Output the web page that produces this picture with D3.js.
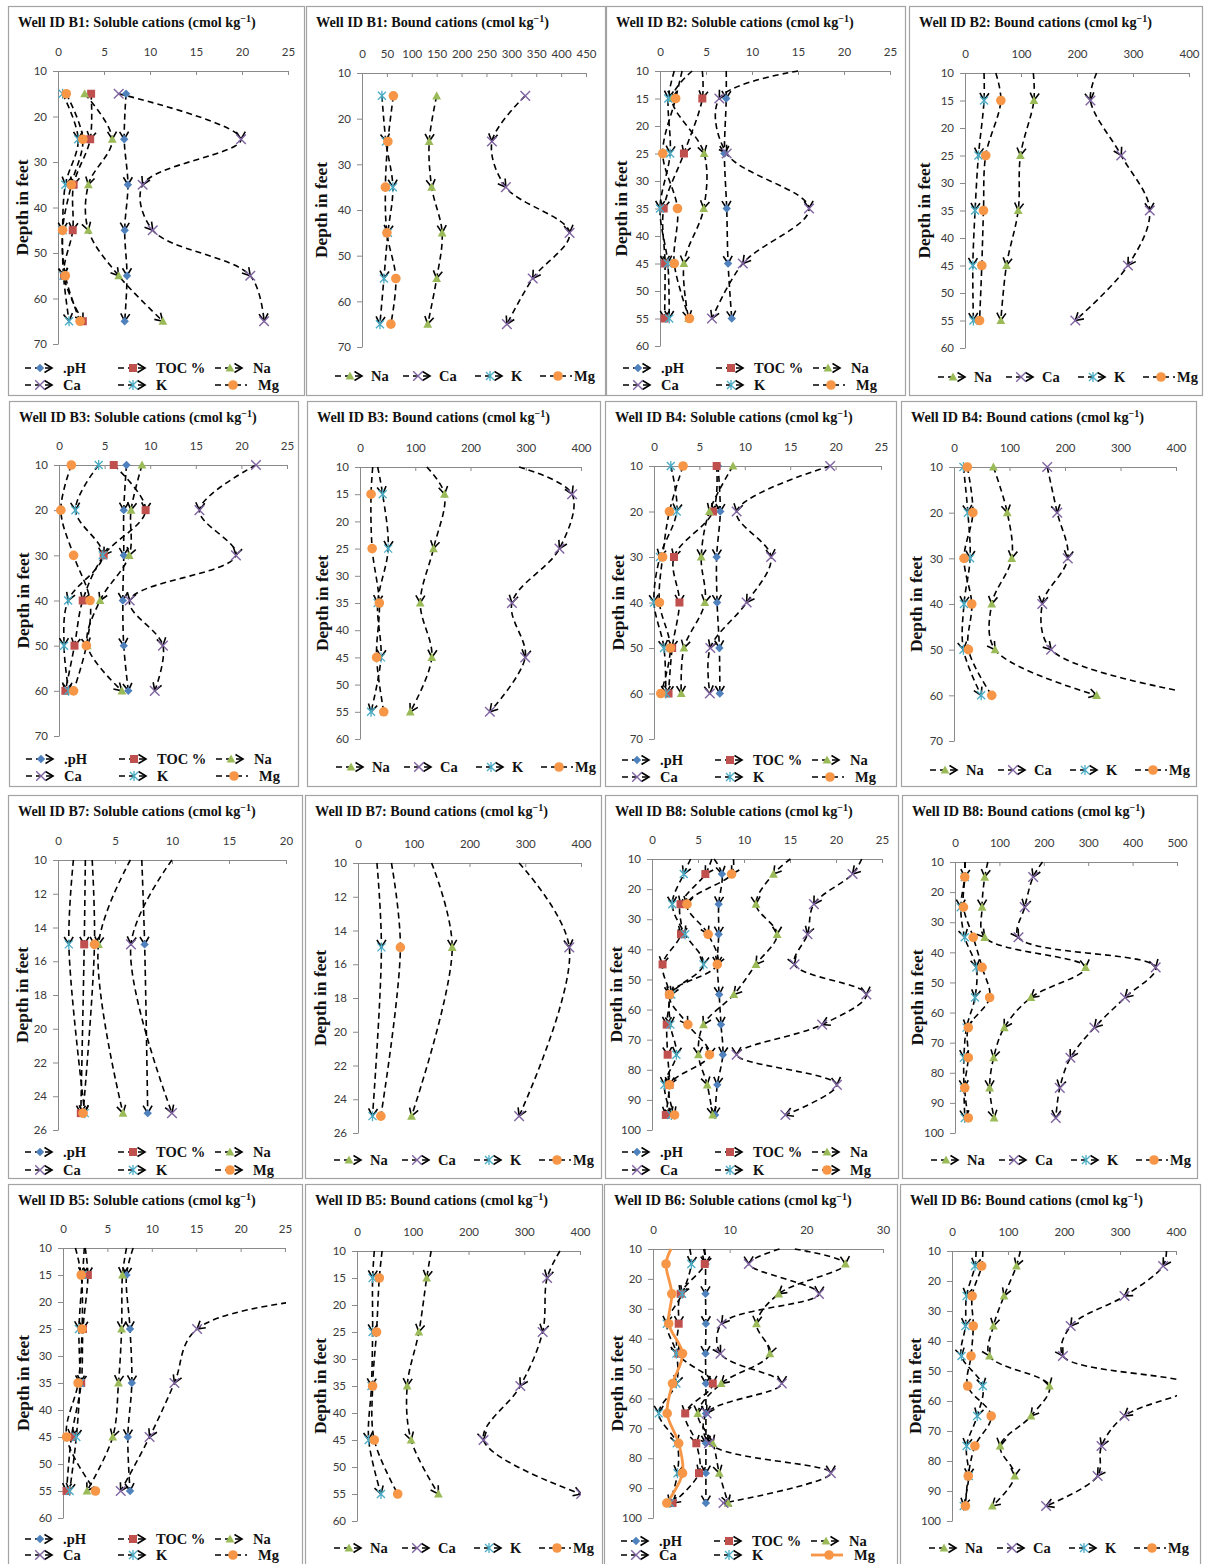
<!DOCTYPE html>
<html>
<head>
<meta charset="utf-8">
<script src="https://cdn.jsdelivr.net/npm/d3@7"></script>
<style>
  body { margin: 0; background: #fff; }
  svg { display: block; }
  .tick text { font-family: Lato, "Open Sans", sans-serif; font-size: 11.5px; fill: #3a3a3a; }
  .tick line, .domain { stroke: #8a8a8a; }
</style>
</head>
<body>
<svg id="chart" width="1206" height="1564"></svg>
<script>
// ---- sampling depths (feet) ----
const depths15to65 = [15, 25, 35, 45, 55, 65];
const depths15to55 = [15, 25, 35, 45, 55];
const depths10to60 = [10, 20, 30, 40, 50, 60];
const depths15to95 = [15, 25, 35, 45, 55, 65, 75, 85, 95];
const depths15and25 = [15, 25];

// ---- axis tick labels ----
const ticks20 = [0, 5, 10, 15, 20];
const ticks25 = [0, 5, 10, 15, 20, 25];
const ticks30 = [0, 10, 20, 30];
const ticks400 = [0, 100, 200, 300, 400];
const ticks450 = [0, 50, 100, 150, 200, 250, 300, 350, 400, 450];
const ticks500 = [0, 100, 200, 300, 400, 500];
const depthTicks70 = [10, 20, 30, 40, 50, 60, 70];
const depthTicks60 = [10, 15, 20, 25, 30, 35, 40, 45, 50, 55, 60];
const depthTicks100 = [10, 20, 30, 40, 50, 60, 70, 80, 90, 100];
const depthTicks26 = [10, 12, 14, 16, 18, 20, 22, 24, 26];

// ---- series order ----
const solubleKeys = ["pH", "TOC", "Na", "Ca", "K", "Mg"];
const boundKeys = ["Na", "Ca", "K", "Mg"];

// ---- Well B1 ----
const b1Soluble = {
  pH: [7.4, 7.2, 7.6, 7.25, 7.5, 7.25],
  TOC: [3.6, 3.5, 1.7, 1.6, 0.65, 2.7],
  Na: [2.9, 5.9, 3.3, 3.3, 6.6, 11.4],
  Ca: [6.6, 19.9, 9.2, 10.3, 20.9, 22.4],
  K: [0.5, 2.2, 0.8, 0.5, 0.6, 1.2],
  Mg: [0.9, 2.7, 1.45, 0.5, 0.8, 2.4]
};
const b1Bound = {
  Na: [150, 135, 140, 161, 150, 132],
  Ca: [328, 261, 289, 417, 343, 291],
  K: [40, 48, 62, 52, 44, 36],
  Mg: [63, 52, 47, 50, 68, 58]
};

// ---- Well B2 (traces enter at the 10 ft line) ----
const b2Soluble = {
  pH: [7.2, 7.0, 7.25, 7.4, 7.8],
  TOC: [4.6, 2.6, 0.4, 0.55, 0.5],
  Na: [1.3, 4.8, 4.75, 2.6, 3.1],
  Ca: [6.45, 7.25, 16.2, 9.0, 5.65],
  K: [0.9, 1.1, 0.0, 0.85, 1.0],
  Mg: [1.7, 0.3, 1.9, 1.55, 3.2]
};
const b2SolubleLead = { pH: 7.2, TOC: 4.6, Na: 3.5, Ca: 15.0, K: 1.55, Mg: 2.4 };
const b2Bound = {
  Na: [123, 99, 95, 74, 64],
  Ca: [224, 279, 330, 291, 197],
  K: [34, 24, 18, 14, 15],
  Mg: [64, 37, 33, 30, 26]
};
const b2BoundLead = { Na: 122, Ca: 235, K: 34, Mg: 55 };

// ---- Well B3 ----
const b3Soluble = {
  pH: [7.4, 7.1, 7.1, 7.0, 7.1, 7.6],
  TOC: [6.0, 9.5, 4.9, 2.6, 1.7, 0.7],
  Na: [9.1, 7.9, 7.7, 4.5, 3.1, 6.9],
  Ca: [21.6, 15.4, 19.4, 7.75, 11.4, 10.5],
  K: [4.35, 1.8, 4.8, 1.0, 0.55, 1.05],
  Mg: [1.35, 0.2, 1.6, 3.4, 3.0, 1.6]
};
const b3Bound = {
  Na: [153, 133, 109, 130, 91],
  Ca: [384, 361, 275, 299, 235],
  K: [41, 51, 32, 38, 20],
  Mg: [20, 22, 35, 30, 43]
};
const b3BoundLead = { Na: 121, Ca: 288, K: 32, Mg: 23 };

// ---- Well B4 ----
const b4Soluble = {
  pH: [7.05, 7.3, 6.9, 6.95, 7.2, 7.25],
  TOC: [6.9, 6.5, 2.2, 2.8, 2.0, 1.6],
  Na: [8.7, 6.1, 5.2, 5.6, 3.3, 3.0],
  Ca: [19.4, 9.1, 12.9, 10.2, 6.2, 6.15],
  K: [1.85, 2.5, 0.65, 0.0, 1.1, 1.3],
  Mg: [3.2, 1.7, 0.95, 0.6, 1.8, 0.75]
};
const b4Bound = {
  Na: [71, 96, 104, 68, 74, 257],
  Ca: [168, 186, 205, 159, 175, 450],
  K: [17, 25, 29, 18, 17, 49],
  Mg: [24, 34, 18, 32, 26, 68]
};

// ---- Well B7 ----
const b7Soluble = {
  pH: [7.6, 7.87],
  TOC: [2.3, 2.0],
  Na: [3.55, 5.7],
  Ca: [6.4, 10.0],
  K: [0.95, 2.35],
  Mg: [3.2, 2.2]
};
const b7SolubleLead = { pH: 7.35, TOC: 2.4, Na: 6.35, Ca: 10.0, K: 1.35, Mg: 3.0 };
const b7Bound = {
  Na: [169, 96],
  Ca: [379, 289],
  K: [42, 26],
  Mg: [76, 41]
};
const b7BoundLead = { Na: 132, Ca: 289, K: 34, Mg: 60 };

// ---- Well B8 ----
const b8Soluble = {
  pH: [7.6, 7.25, 7.25, 7.1, 7.3, 7.5, 7.7, 7.1, 6.85],
  TOC: [5.8, 3.1, 3.15, 1.15, 1.9, 1.6, 1.7, 1.9, 1.5],
  Na: [13.2, 11.3, 13.6, 11.3, 8.9, 5.6, 5.05, 6.0, 6.6],
  Ca: [21.8, 17.6, 16.9, 15.5, 23.3, 18.5, 9.2, 20.1, 14.5],
  K: [3.45, 2.2, 3.6, 5.6, 2.1, 2.0, 2.65, 1.35, 2.1],
  Mg: [8.65, 3.8, 6.1, 7.1, 1.9, 3.9, 6.25, 1.9, 2.45]
};
const b8SolubleLead = { pH: 6.75, TOC: 6.5, Na: 15.05, Ca: 22.8, K: 4.2, Mg: 8.85 };
const b8Bound = {
  Na: [67, 61, 67, 294, 171, 111, 87, 78, 88],
  Ca: [176, 157, 143, 452, 383, 314, 260, 236, 227],
  K: [22, 13, 22, 48, 45, 26, 20, 20, 22],
  Mg: [22, 19, 41, 61, 78, 30, 30, 22, 30]
};
const b8BoundLead = { Na: 74, Ca: 197, K: 23, Mg: 22 };

// ---- Well B5 ----
const b5Soluble = {
  pH: [7.15, 7.55, 7.75, 7.3, 7.55],
  TOC: [2.8, 2.25, 2.05, 0.95, 0.4],
  Na: [6.7, 6.6, 6.25, 5.6, 2.7],
  Ca: [45, 15.1, 12.55, 9.75, 6.5],
  K: [2.2, 1.8, 1.9, 1.5, 0.75],
  Mg: [2.05, 2.15, 1.7, 0.4, 3.65]
};
const b5SolubleLead = { pH: 7.9, TOC: 2.5, Na: 7.15, Ca: 50, K: 2.4, Mg: 1.4 };
const b5Bound = {
  Na: [125, 111, 90, 97, 146],
  Ca: [341, 333, 293, 227, 402],
  K: [28, 28, 26, 21, 43],
  Mg: [40, 35, 28, 31, 73]
};
const b5BoundLead = { Na: 133, Ca: 364, K: 31, Mg: 45 };

// ---- Well B6 ----
const b6Soluble = {
  pH: [6.85, 6.85, 6.9, 6.85, 6.9, 6.9, 6.9, 6.9, 6.9],
  TOC: [6.75, 3.6, 3.35, 3.3, 7.8, 4.2, 5.65, 6.0, 2.55],
  Na: [25.1, 16.4, 13.5, 15.25, 8.9, 5.85, 7.8, 8.65, 9.8],
  Ca: [12.5, 21.65, 8.95, 8.8, 16.8, 7.0, 7.3, 23.2, 9.2],
  K: [5.0, 3.8, 1.8, 3.05, 3.05, 0.75, 3.1, 3.2, 2.2],
  Mg: [1.7, 2.45, 2.05, 3.85, 2.55, 1.85, 3.35, 3.85, 1.8]
};
const b6SolubleLead = { pH: 6.75, TOC: 6.6, Na: 18.5, Ca: 16.5, K: 4.8, Mg: 2.35 };
const b6Bound = {
  Na: [115, 93, 74, 67, 174, 141, 86, 112, 72],
  Ca: [377, 308, 212, 198, 430, 308, 267, 260, 168],
  K: [41, 26, 24, 17, 55, 45, 26, 30, 21],
  Mg: [53, 36, 38, 34, 28, 70, 41, 29, 24]
};
const b6BoundLead = { Na: 122, Ca: 383, K: 43, Mg: 55 };

// ---- series appearance ----
const seriesStyle = {
  pH: { color: "#4F81BD", shape: "diamond", label: ".pH" },
  TOC: { color: "#C0504D", shape: "square", label: "TOC %" },
  Na: { color: "#9BBB59", shape: "triangle", label: "Na" },
  Ca: { color: "#8064A2", shape: "cross", label: "Ca" },
  K: { color: "#4BACC6", shape: "star", label: "K" },
  Mg: { color: "#F79646", shape: "circle", label: "Mg" }
};

// ---- panel definitions: data + frame geometry ----
const panels = [
  { well: "B1", kind: "soluble", depths: depths15to65, values: b1Soluble, lead: null, xMax: 25, xTicks: ticks25, yMax: 70, yTicks: depthTicks70, mg: "dash",
    box: [8, 6, 304, 395], plot: [58, 288, 71, 344], legendY: [368, 385] },
  { well: "B1", kind: "bound", depths: depths15to65, values: b1Bound, lead: null, xMax: 450, xTicks: ticks450, yMax: 70, yTicks: depthTicks70, mg: "dash",
    box: [306, 6, 605, 395], plot: [362, 586, 73, 347], legendY: [376] },
  { well: "B2", kind: "soluble", depths: depths15to55, values: b2Soluble, lead: b2SolubleLead, xMax: 25, xTicks: ticks25, yMax: 60, yTicks: depthTicks60, mg: "dash",
    box: [606, 6, 905, 395], plot: [660, 890, 71, 346], legendY: [368, 385] },
  { well: "B2", kind: "bound", depths: depths15to55, values: b2Bound, lead: b2BoundLead, xMax: 400, xTicks: ticks400, yMax: 60, yTicks: depthTicks60, mg: "dash",
    box: [909, 6, 1202, 395], plot: [965, 1189, 73, 348], legendY: [377] },

  { well: "B3", kind: "soluble", depths: depths10to60, values: b3Soluble, lead: null, xMax: 25, xTicks: ticks25, yMax: 70, yTicks: depthTicks70, mg: "dash",
    box: [9, 401, 298, 786], plot: [59, 287, 465, 736], legendY: [759, 776] },
  { well: "B3", kind: "bound", depths: depths15to55, values: b3Bound, lead: b3BoundLead, xMax: 400, xTicks: ticks400, yMax: 60, yTicks: depthTicks60, mg: "dash",
    box: [307, 401, 600, 786], plot: [360, 581, 467, 739], legendY: [767] },
  { well: "B4", kind: "soluble", depths: depths10to60, values: b4Soluble, lead: null, xMax: 25, xTicks: ticks25, yMax: 70, yTicks: depthTicks70, mg: "dash",
    box: [605, 401, 896, 786], plot: [654, 881, 466, 739], legendY: [760, 777] },
  { well: "B4", kind: "bound", depths: depths10to60, values: b4Bound, lead: null, xMax: 400, xTicks: ticks400, yMax: 70, yTicks: depthTicks70, mg: "dash",
    box: [901, 401, 1196, 786], plot: [954, 1176, 467, 741], legendY: [770] },

  { well: "B7", kind: "soluble", depths: depths15and25, values: b7Soluble, lead: b7SolubleLead, xMax: 20, xTicks: ticks20, yMax: 26, yTicks: depthTicks26, mg: "arrow",
    box: [8, 795, 302, 1178], plot: [58, 286, 860, 1130], legendY: [1152, 1170] },
  { well: "B7", kind: "bound", depths: depths15and25, values: b7Bound, lead: b7BoundLead, xMax: 400, xTicks: ticks400, yMax: 26, yTicks: depthTicks26, mg: "dash",
    box: [305, 795, 601, 1178], plot: [358, 581, 863, 1133], legendY: [1160] },
  { well: "B8", kind: "soluble", depths: depths15to95, values: b8Soluble, lead: b8SolubleLead, xMax: 25, xTicks: ticks25, yMax: 100, yTicks: depthTicks100, mg: "arrow",
    box: [605, 795, 898, 1178], plot: [652, 882, 859, 1130], legendY: [1152, 1170] },
  { well: "B8", kind: "bound", depths: depths15to95, values: b8Bound, lead: b8BoundLead, xMax: 500, xTicks: ticks500, yMax: 100, yTicks: depthTicks100, mg: "dash",
    box: [902, 795, 1197, 1178], plot: [955, 1177, 862, 1133], legendY: [1160] },

  { well: "B5", kind: "soluble", depths: depths15to55, values: b5Soluble, lead: b5SolubleLead, xMax: 25, xTicks: ticks25, yMax: 60, yTicks: depthTicks60, mg: "dash",
    box: [8, 1184, 302, 1570], plot: [63, 285, 1248, 1518], legendY: [1539, 1555] },
  { well: "B5", kind: "bound", depths: depths15to55, values: b5Bound, lead: b5BoundLead, xMax: 400, xTicks: ticks400, yMax: 60, yTicks: depthTicks60, mg: "dash",
    box: [305, 1184, 602, 1570], plot: [357, 580, 1251, 1521], legendY: [1548] },
  { well: "B6", kind: "soluble", depths: depths15to95, values: b6Soluble, lead: b6SolubleLead, xMax: 30, xTicks: ticks30, yMax: 100, yTicks: depthTicks100, mg: "solid",
    box: [604, 1184, 897, 1570], plot: [653, 883, 1249, 1518], legendY: [1541, 1555] },
  { well: "B6", kind: "bound", depths: depths15to95, values: b6Bound, lead: b6BoundLead, xMax: 400, xTicks: ticks400, yMax: 100, yTicks: depthTicks100, mg: "dash",
    box: [900, 1184, 1200, 1570], plot: [952, 1176, 1251, 1521], legendY: [1548] }
];

const svg = d3.select("#chart");
const defs = svg.append("defs");

// open arrowhead placed at every data vertex of a trace
defs.append("marker")
  .attr("id", "arrowhead")
  .attr("viewBox", "-10 -7 12 14")
  .attr("refX", 0).attr("refY", 0)
  .attr("markerWidth", 12).attr("markerHeight", 14)
  .attr("markerUnits", "userSpaceOnUse")
  .attr("orient", "auto")
  .append("path")
  .attr("d", "M-7.5,-4.5L0,0L-7.5,4.5")
  .attr("fill", "none")
  .attr("stroke", "#000")
  .attr("stroke-width", 1.6);

const SERIF = "'Liberation Serif', 'Times New Roman', serif";

function drawSymbol(g, key, cx, cy) {
  const st = seriesStyle[key];
  const s = g.append("g").attr("transform", `translate(${cx},${cy})`);
  switch (st.shape) {
    case "diamond":
      s.append("path").attr("d", "M0,-4.2L4.2,0L0,4.2L-4.2,0Z").attr("fill", st.color);
      break;
    case "square":
      s.append("rect").attr("x", -4).attr("y", -4).attr("width", 8).attr("height", 8).attr("fill", st.color);
      break;
    case "triangle":
      s.append("path").attr("d", "M0,-4.6L4.4,3.6L-4.4,3.6Z").attr("fill", st.color);
      break;
    case "cross":
      s.append("path").attr("d", "M-4.8,-4.8L4.8,4.8M-4.8,4.8L4.8,-4.8")
        .attr("stroke", st.color).attr("stroke-width", 1.4).attr("fill", "none");
      break;
    case "star":
      s.append("path").attr("d", "M-4,-4L4,4M-4,4L4,-4M0,-5L0,5")
        .attr("stroke", st.color).attr("stroke-width", 1.3).attr("fill", "none");
      break;
    case "circle":
      s.append("circle").attr("r", 4.8).attr("fill", st.color);
      break;
  }
}

function traceMode(p, key) {
  if (key !== "Mg") return "arrow";
  return p.mg;
}

function applyTraceStyle(sel, mode) {
  if (mode === "solid") {
    sel.attr("stroke", seriesStyle.Mg.color).attr("stroke-width", 2.8);
  } else {
    sel.attr("stroke", "#000").attr("stroke-width", 1.6).attr("stroke-dasharray", "6,4");
    if (mode === "arrow") {
      sel.attr("marker-mid", "url(#arrowhead)").attr("marker-end", "url(#arrowhead)");
    }
  }
  return sel;
}

function drawTitle(p) {
  const t = svg.append("text")
    .attr("x", p.box[0] + 10).attr("y", p.box[1] + 21)
    .attr("font-family", SERIF).attr("font-weight", "bold").attr("font-size", 14.2)
    .attr("fill", "#111");
  const word = p.kind === "soluble" ? "Soluble" : "Bound";
  t.append("tspan").text(`Well ID ${p.well}: ${word} cations (cmol kg`);
  t.append("tspan").attr("dy", -5).attr("font-size", 10).text("\u22121");
  t.append("tspan").attr("dy", 5).text(")");
}

function drawLegend(p) {
  const bx = p.box[0];
  const g = svg.append("g");
  const rows = p.kind === "soluble"
    ? [[["pH", 17], ["TOC", 110], ["Na", 207]], [["Ca", 17], ["K", 110], ["Mg", 207]]]
    : [[["Na", 29], ["Ca", 97], ["K", 169], ["Mg", 234]]];
  rows.forEach((row, ri) => {
    const yc = p.legendY[ri];
    row.forEach(([key, off]) => {
      const x0 = bx + off;
      const mode = traceMode(p, key);
      const len = mode === "arrow" ? 27 : 32;
      const ln = g.append("line")
        .attr("x1", x0).attr("x2", x0 + len).attr("y1", yc).attr("y2", yc);
      applyTraceStyle(ln, mode);
      if (mode === "arrow") ln.attr("marker-mid", null);
      drawSymbol(g, key, x0 + (mode === "arrow" ? 15 : 18), yc);
      const textX = x0 + (p.kind === "soluble" ? (mode === "arrow" ? 38 : 43) : (mode === "arrow" ? 36 : 34));
      g.append("text")
        .attr("x", textX).attr("y", yc + 5)
        .attr("font-family", SERIF).attr("font-weight", "bold").attr("font-size", 14.5)
        .attr("fill", "#111")
        .text(seriesStyle[key].label);
    });
  });
}

panels.forEach((p, idx) => {
  const [bx0, by0, bx1, by1] = p.box;
  const [px0, px1, py0, py1] = p.plot;

  // frame
  svg.append("rect")
    .attr("x", bx0 + 0.5).attr("y", by0 + 0.5)
    .attr("width", bx1 - bx0).attr("height", by1 - by0)
    .attr("fill", "#fff").attr("stroke", "#a3a3a3").attr("stroke-width", 1.2);

  const x = d3.scaleLinear().domain([0, p.xMax]).range([px0, px1]);
  const y = d3.scaleLinear().domain([10, p.yMax]).range([py0, py1]);

  // value axis along the top (depth 10 ft)
  svg.append("g")
    .attr("transform", `translate(0,${py0})`)
    .call(d3.axisTop(x).tickValues(p.xTicks).tickSizeInner(-4).tickSizeOuter(0).tickPadding(15).tickFormat(d3.format("d")));

  // depth axis on the left
  svg.append("g")
    .attr("transform", `translate(${px0},0)`)
    .call(d3.axisLeft(y).tickValues(p.yTicks).tickSizeInner(5).tickSizeOuter(0).tickPadding(6).tickFormat(d3.format("d")));

  // depth label
  svg.append("text")
    .attr("transform", `translate(${Math.min(bx0 + 15, px0 - 36)},${(py0 + py1) / 2}) rotate(-90)`)
    .attr("text-anchor", "middle").attr("dominant-baseline", "central")
    .attr("font-family", SERIF).attr("font-weight", "bold").attr("font-size", 17.5)
    .attr("fill", "#111")
    .text("Depth in feet");

  drawTitle(p);

  // plotting area clip (values beyond the axis maximum leave the frame)
  const clipId = `clip${idx}`;
  defs.append("clipPath").attr("id", clipId)
    .append("rect")
    .attr("x", px0 - 14).attr("y", py0 - 12)
    .attr("width", px1 - px0 + 15).attr("height", py1 - py0 + 24);

  const plotG = svg.append("g").attr("clip-path", `url(#${clipId})`);
  const keys = p.kind === "soluble" ? solubleKeys : boundKeys;
  const line = d3.line()
    .x(d => x(d.v)).y(d => y(d.depth))
    .curve(d3.curveCatmullRom.alpha(0.5));

  keys.forEach(key => {
    const vals = p.values[key];
    const pts = p.depths.map((depth, i) => ({ depth, v: vals[i] }));
    const trace = p.lead ? [{ depth: 10, v: p.lead[key] }].concat(pts) : pts;
    const path = plotG.append("path")
      .attr("d", line(trace))
      .attr("fill", "none");
    applyTraceStyle(path, traceMode(p, key));
  });

  keys.forEach(key => {
    const vals = p.values[key];
    p.depths.forEach((depth, i) => drawSymbol(plotG, key, x(vals[i]), y(depth)));
  });

  drawLegend(p);
});
</script>
</body>
</html>
